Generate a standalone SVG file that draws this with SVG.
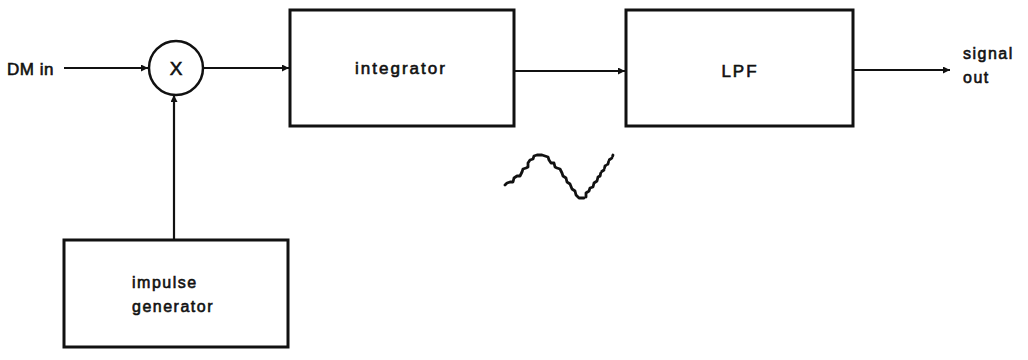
<svg xmlns="http://www.w3.org/2000/svg" width="1028" height="360" viewBox="0 0 1028 360">
<style>
.box{fill:none;stroke:#111;stroke-width:3}
.ln{fill:none;stroke:#111;stroke-width:2.2}
.t{font-family:"Liberation Sans",Arial,sans-serif;font-size:16px;fill:#111;stroke:#111;stroke-width:0.6;letter-spacing:1.5px}
.wave{fill:none;stroke:#111;stroke-width:2.8;stroke-linejoin:round;stroke-linecap:round}
</style>
<defs>
<marker id="ah" viewBox="0 0 10 10" refX="10" refY="5" markerWidth="11" markerHeight="7" markerUnits="userSpaceOnUse" orient="auto">
<path d="M0,0 L10,5 L0,10 z" fill="#111"/>
</marker>
</defs>
<rect width="1028" height="360" fill="#fff"/>
<g id="connectors">
<line class="ln" x1="64" y1="68" x2="148" y2="68" marker-end="url(#ah)"/>
<line class="ln" x1="203" y1="68" x2="289" y2="68" marker-end="url(#ah)"/>
<line class="ln" x1="514" y1="71" x2="625" y2="71" marker-end="url(#ah)"/>
<line class="ln" x1="853" y1="70" x2="950" y2="70" marker-end="url(#ah)"/>
<line class="ln" x1="174" y1="240" x2="174" y2="95" marker-end="url(#ah)"/>
</g>
<g id="dm-in"><text class="t" x="7" y="75" style="font-size:17px;letter-spacing:0.5px">DM in</text></g>
<g id="multiplier">
<circle cx="176" cy="68" r="27" class="box" style="stroke-width:2.5"/>
<text class="t" x="176" y="75" text-anchor="middle" style="font-size:19px;letter-spacing:0">X</text>
</g>
<g id="integrator">
<rect class="box" x="290" y="10" width="224" height="116"/>
<text class="t" x="401" y="74" text-anchor="middle" style="font-size:17px;letter-spacing:2px">integrator</text>
</g>
<g id="lpf">
<rect class="box" x="626" y="10" width="227" height="116"/>
<text class="t" x="740" y="77" text-anchor="middle" style="font-size:17px;letter-spacing:2px">LPF</text>
</g>
<g id="signal-out">
<text class="t" x="963" y="59">signal</text>
<text class="t" x="963" y="83">out</text>
</g>
<g id="impulse-generator">
<rect class="box" x="64" y="240" width="224" height="107"/>
<text class="t" x="132" y="288">impulse</text>
<text class="t" x="132" y="312">generator</text>
</g>
<g id="waveform">
<path class="wave" d="M505,185 L507,183 L510,182 L513,182 L514,178 L517,176 L520,176 L522,172 L523,169 L526,168 L528,167 L528,163 L530,160 L533,159 L534,156 L537,155 L542,155 L545,156 L548,157 L549,160 L551,163 L554,163 L555,167 L557,168 L560,169 L562,173 L563,176 L566,178 L567,182 L570,184 L572,189 L575,191 L576,195 L579,198 L584,198"/>
<path class="wave" d="M586,197 L586,193 L589,191 L590,188 L593,187 L594,183 L597,181 L598,177 L600,176"/>
<path class="wave" stroke-dasharray="3,2" d="M600,176 L601,172 L604,170 L605,166 L608,164 L609,160 L612,158 L613,155"/>
</g>
</svg>
